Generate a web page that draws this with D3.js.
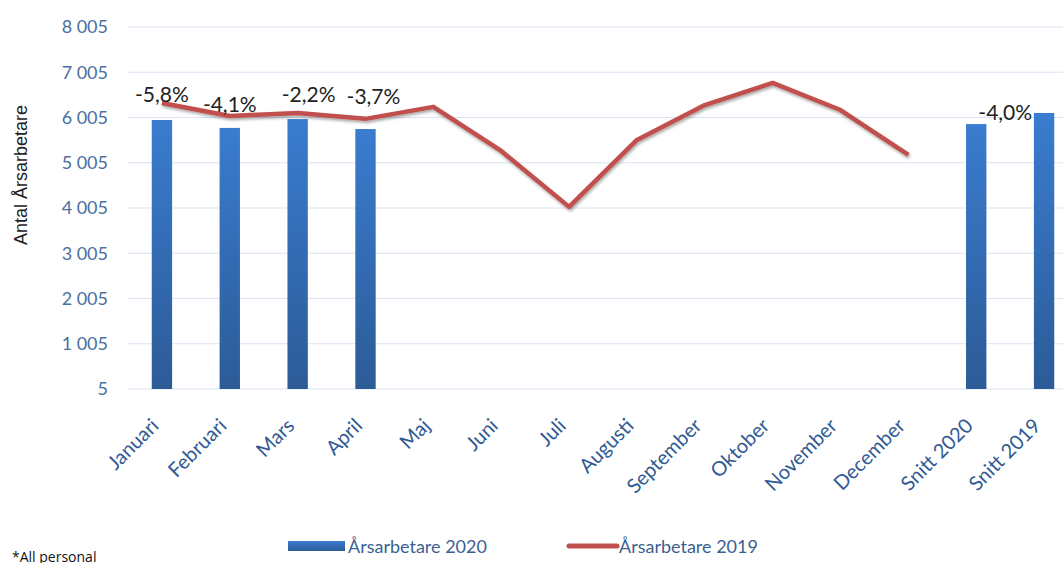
<!DOCTYPE html>
<html>
<head>
<meta charset="utf-8">
<script src="https://cdn.jsdelivr.net/npm/d3@7"></script>
<style>
  body { margin: 0; background: #fff; }
  svg { display: block; font-family: Lato, "Open Sans", sans-serif; }
</style>
</head>
<body>
<svg id="chart"></svg>
<script>
// categories along the x axis
var categories = ["Januari", "Februari", "Mars", "April", "Maj", "Juni", "Juli",
  "Augusti", "September", "Oktober", "November", "December", "Snitt 2020", "Snitt  2019"];

// bars: Årsarbetare 2020 (null = no bar)
var bars2020 = [5950, 5775, 5970, 5750, null, null, null, null, null, null, null, null, 5860, 6105];

// line: Årsarbetare 2019 (months only)
var line2019 = [6325, 6040, 6105, 5975, 6240, 5265, 4030, 5510, 6280, 6770, 6170, 5180, null, null];

// percent labels
var pctLabels = ["-5,8%", "-4,1%", "-2,2%", "-3,7%", null, null, null, null, null, null, null, null, "-4,0%", null];
var pctShift = [0, 0, 11, 8, 0, 0, 0, 0, 0, 0, 0, 0, 29, 0];
var pctLift = [4, 1, -6, -10, 0, 0, 0, 0, 0, 0, 0, 0, 1, 0];

var yTicks = [5, 1005, 2005, 3005, 4005, 5005, 6005, 7005, 8005];

var width = 1063, height = 563;
var margin = { left: 128, right: -15, top: 27, bottom: 174 };

var svg = d3.select("#chart").attr("width", width).attr("height", height);

var defs = svg.append("defs");
var grad = defs.append("linearGradient")
  .attr("id", "barGrad")
  .attr("x1", 0).attr("y1", 0).attr("x2", 0).attr("y2", 1);
grad.append("stop").attr("offset", "0%").attr("stop-color", "#3a7ccf");
grad.append("stop").attr("offset", "100%").attr("stop-color", "#2c5b97");

var shadow = defs.append("filter").attr("id", "lineShadow")
  .attr("x", "-5%").attr("y", "-10%").attr("width", "110%").attr("height", "130%");
shadow.append("feDropShadow")
  .attr("dx", 1).attr("dy", 2).attr("stdDeviation", 1.5)
  .attr("flood-color", "#000").attr("flood-opacity", 0.35);

var x = d3.scaleBand()
  .domain(categories)
  .range([margin.left, width - margin.right])
  .paddingInner(0.7)
  .paddingOuter(0.35);

var xc = d3.scalePoint()
  .domain(categories)
  .range([margin.left, width - margin.right])
  .padding(0.5);

var y = d3.scaleLinear()
  .domain([5, 8005])
  .range([height - margin.bottom, margin.top]);

// gridlines
svg.append("g")
  .selectAll("line")
  .data(yTicks)
  .enter()
  .append("line")
  .attr("x1", margin.left)
  .attr("x2", width)
  .attr("y1", (d) => y(d))
  .attr("y2", (d) => y(d))
  .attr("stroke", "#d9e4f4")
  .attr("stroke-width", 1.2);

// y axis labels
var fmt = (d) => d3.format(",")(d).replace(/,/g, " ");
var yAxis = d3.axisLeft(y).tickValues(yTicks).tickFormat(fmt).tickSize(0).tickPadding(0);
var yG = svg.append("g")
  .attr("transform", `translate(${margin.left - 20},0)`)
  .call(yAxis);
yG.select(".domain").remove();
yG.selectAll("text")
  .attr("fill", "#4a6fa0")
  .style("font-size", "18px")
  .style("font-family", "Lato, sans-serif");

// y axis title
svg.append("text")
  .attr("transform", "translate(27,175) rotate(-90)")
  .attr("text-anchor", "middle")
  .attr("fill", "#222")
  .style("font-size", "18px")
  .style("font-family", "'Liberation Sans', Arial, sans-serif")
  .text("Antal Årsarbetare");

// bars
var barData = categories.map((c, i) => ({ cat: c, v: bars2020[i] })).filter((d) => d.v != null);
svg.append("g")
  .selectAll("rect")
  .data(barData)
  .enter()
  .append("rect")
  .attr("x", (d) => x(d.cat))
  .attr("y", (d) => y(d.v))
  .attr("width", x.bandwidth())
  .attr("height", (d) => y(5) - y(d.v))
  .attr("fill", "url(#barGrad)");

// line 2019
var lineData = categories.map((c, i) => ({ cat: c, v: line2019[i] })).filter((d) => d.v != null);
var line = d3.line()
  .x((d) => xc(d.cat))
  .y((d) => y(d.v));
svg.append("path")
  .datum(lineData)
  .attr("d", line)
  .attr("fill", "none")
  .attr("stroke", "#c0504d")
  .attr("stroke-width", 4.5)
  .attr("stroke-linejoin", "round")
  .attr("filter", "url(#lineShadow)");

// percent labels
var labData = categories.map((c, i) => ({
  cat: c,
  txt: pctLabels[i],
  shift: pctShift[i],
  lift: pctLift[i],
  v: Math.max(bars2020[i] || 0, line2019[i] || 0)
})).filter((d) => d.txt != null);
svg.append("g")
  .selectAll("text")
  .data(labData)
  .enter()
  .append("text")
  .attr("x", (d) => xc(d.cat) + d.shift)
  .attr("y", (d) => y(d.v) - 5 + d.lift)
  .attr("text-anchor", "middle")
  .attr("fill", "#222")
  .style("font-size", "21px")
  .style("font-family", "Lato, sans-serif")
  .text((d) => d.txt);

// x axis labels
var xG = svg.append("g");
xG.selectAll("text")
  .data(categories)
  .enter()
  .append("text")
  .attr("transform", (d) => `translate(${xc(d) - 2},${y(5) + 38}) rotate(-45)`)
  .attr("text-anchor", "end")
  .attr("fill", "#2f5a93")
  .style("font-size", "20px")
  .style("font-family", "Lato, sans-serif")
  .text((d) => d);

// legend
var legend = svg.append("g");
legend.append("rect")
  .attr("x", 288).attr("y", 541)
  .attr("width", 57).attr("height", 10)
  .attr("fill", "url(#barGrad)");
legend.append("text")
  .attr("x", 348).attr("y", 553)
  .attr("fill", "#3b5f91")
  .style("font-size", "18px")
  .text("Årsarbetare 2020");
legend.append("line")
  .attr("x1", 569).attr("x2", 617)
  .attr("y1", 546).attr("y2", 546)
  .attr("stroke", "#c0504d")
  .attr("stroke-width", 5)
  .attr("stroke-linecap", "round");
legend.append("text")
  .attr("x", 619).attr("y", 553)
  .attr("fill", "#3b5f91")
  .style("font-size", "18px")
  .text("Årsarbetare 2019");

svg.append("text")
  .attr("x", 12).attr("y", 562)
  .attr("fill", "#111")
  .style("font-size", "14px")
  .style("font-family", "'Open Sans', sans-serif")
  .text("*All personal");
</script>
</body>
</html>
